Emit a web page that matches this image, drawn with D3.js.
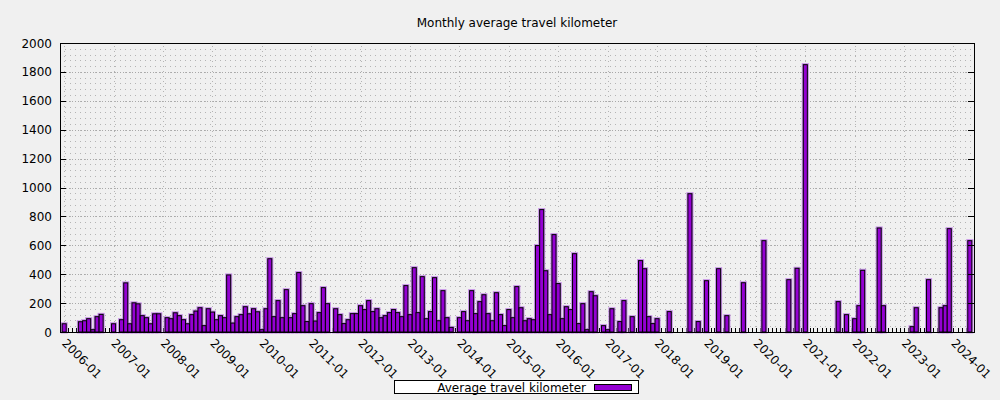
<!DOCTYPE html>
<html>
<head>
<meta charset="utf-8">
<script src="https://cdnjs.cloudflare.com/ajax/libs/d3/7.8.5/d3.min.js"></script>
<style>
  body { margin: 0; background: #f0f0f0; }
  svg { display: block; font-family: "DejaVu Sans", sans-serif; }
</style>
</head>
<body>
<div id="chart"></div>
<script>
// monthly averages, one row per year, first month 2006-01
var firstMonth = new Date(2006, 0, 1);
var monthlyKm = [
    57, 0, 0, 0, 71, 78, 92, 16, 106, 122, 0, 0,            // 2006
    57, 0, 85, 340, 57, 202, 195, 113, 99, 57, 126, 126,    // 2007
    0, 99, 92, 133, 113, 85, 57, 120, 145, 168, 44, 161,    // 2008
    138, 85, 113, 99, 395, 62, 106, 120, 175, 126, 161, 140, // 2009
    16, 161, 507, 106, 217, 99, 293, 99, 127, 411, 182, 72, // 2010
    196, 76, 134, 307, 196, 0, 161, 120, 58, 85, 127, 127,  // 2011
    182, 155, 217, 141, 161, 99, 113, 134, 155, 134, 106, 321, // 2012
    120, 445, 134, 383, 92, 141, 376, 78, 286, 99, 32, 0,   // 2013
    99, 141, 78, 286, 127, 210, 258, 127, 78, 272, 120, 44, // 2014
    155, 99, 314, 168, 78, 92, 85, 598, 847, 424, 120, 674, // 2015
    335, 92, 175, 155, 542, 58, 196, 16, 279, 251, 0, 44,   // 2016
    16, 161, 0, 72, 217, 0, 106, 0, 494, 438, 106, 58,      // 2017
    92, 0, 0, 141, 0, 0, 0, 0, 957, 0, 72, 0,               // 2018
    355, 0, 0, 438, 0, 113, 0, 0, 0, 341, 0, 0,             // 2019
    0, 0, 632, 0, 0, 0, 0, 0, 362, 0, 441, 0,               // 2020
    1850, 0, 0, 0, 0, 0, 0, 0, 210, 0, 120, 0,              // 2021
    92, 182, 427, 0, 0, 0, 720, 182, 0, 0, 0, 0,            // 2022
    0, 0, 37, 168, 0, 0, 362, 0, 0, 168, 182, 715,          // 2023
    0, 0, 0, 0, 632                                         // 2024
];
var yTicks = [0, 200, 400, 600, 800, 1000, 1200, 1400, 1600, 1800, 2000];
var yearTicks = ["2006-01", "2007-01", "2008-01", "2009-01", "2010-01", "2011-01",
    "2012-01", "2013-01", "2014-01", "2015-01", "2016-01", "2017-01", "2018-01",
    "2019-01", "2020-01", "2021-01", "2022-01", "2023-01", "2024-01"];

var width = 1000, height = 400;
var margin = {left: 60, right: 26, top: 43, bottom: 68};
var purple = '#9400d3';

var parseMonth = d3.timeParse('%Y-%m');
var data = monthlyKm.map(function(v, i) {
    return {date: d3.timeMonth.offset(firstMonth, i), value: v};
});

var svg = d3.select('#chart')
    .append('svg')
    .attr('width', width)
    .attr('height', height);

var x = d3.scaleTime()
    .domain([new Date(2005, 11, 1), new Date(2024, 5, 1)])
    .range([margin.left, width - margin.right]);
var y = d3.scaleLinear()
    .domain([0, 2000])
    .range([height - margin.bottom, margin.top]);

var x0 = margin.left, x1 = width - margin.right;
var y0 = height - margin.bottom, y1 = margin.top;

// grid: minor rows make the dot lattice, majors are denser
var minorY = d3.range(0, 2000, 40);
svg.append('g').selectAll('line')
    .data(minorY)
    .enter()
    .append('line')
    .attr('x1', x0).attr('x2', x1)
    .attr('y1', function(d) { return Math.round(y(d)) + 0.5; })
    .attr('y2', function(d) { return Math.round(y(d)) + 0.5; })
    .attr('stroke', '#b4b4b4')
    .attr('stroke-dasharray', '1,4');

svg.append('g').selectAll('line')
    .data(yTicks)
    .enter()
    .append('line')
    .attr('x1', x0).attr('x2', x1)
    .attr('y1', function(d) { return Math.round(y(d)) + 0.5; })
    .attr('y2', function(d) { return Math.round(y(d)) + 0.5; })
    .attr('stroke', '#a8a8a8')
    .attr('stroke-dasharray', '1,2');

svg.append('g').selectAll('line')
    .data(yearTicks)
    .enter()
    .append('line')
    .attr('x1', function(d) { return Math.round(x(parseMonth(d))) + 0.5; })
    .attr('x2', function(d) { return Math.round(x(parseMonth(d))) + 0.5; })
    .attr('y1', y0).attr('y2', y1)
    .attr('stroke', '#b4b4b4')
    .attr('stroke-dasharray', '1,4');

// month ticks on the x axis, behind the bars
svg.append('g').selectAll('line')
    .data(data)
    .enter()
    .append('line')
    .attr('x1', function(d) { return Math.round(x(d.date)) + 0.5; })
    .attr('x2', function(d) { return Math.round(x(d.date)) + 0.5; })
    .attr('y1', y0).attr('y2', y0 - 4)
    .attr('stroke', '#000');

function barLeft(d) {
    return x(d3.timeDay.offset(d.date, -15));
}
function barWidth(d) {
    return x(d3.timeDay.offset(d.date, 15)) - barLeft(d);
}

var bars = data.filter(function(d) { return d.value > 0; });

// soft halo around bars
svg.append('g').selectAll('rect')
    .data(bars)
    .enter()
    .append('rect')
    .attr('x', barLeft)
    .attr('y', function(d) { return y(d.value); })
    .attr('width', barWidth)
    .attr('height', function(d) { return y0 - y(d.value); })
    .attr('fill', 'none')
    .attr('stroke', '#c58ee6')
    .attr('stroke-width', 3);

svg.append('g').selectAll('rect')
    .data(bars)
    .enter()
    .append('rect')
    .attr('x', barLeft)
    .attr('y', function(d) { return y(d.value); })
    .attr('width', barWidth)
    .attr('height', function(d) { return y0 - y(d.value); })
    .attr('fill', purple)
    .attr('stroke', '#000')
    .attr('stroke-width', 1);

// border
svg.append('rect')
    .attr('x', x0 + 0.5).attr('y', y1 + 0.5)
    .attr('width', x1 - x0).attr('height', y0 - y1)
    .attr('fill', 'none')
    .attr('stroke', '#000');

// y ticks both sides + labels
var yt = svg.append('g').selectAll('g')
    .data(yTicks)
    .enter()
    .append('g');
yt.append('line')
    .attr('x1', x0).attr('x2', x0 + 6)
    .attr('y1', function(d) { return Math.round(y(d)) + 0.5; })
    .attr('y2', function(d) { return Math.round(y(d)) + 0.5; })
    .attr('stroke', '#000');
yt.append('line')
    .attr('x1', x1).attr('x2', x1 - 6)
    .attr('y1', function(d) { return Math.round(y(d)) + 0.5; })
    .attr('y2', function(d) { return Math.round(y(d)) + 0.5; })
    .attr('stroke', '#000');
yt.append('text')
    .attr('x', 52)
    .attr('y', function(d) { return y(d) + 4.5; })
    .attr('text-anchor', 'end')
    .attr('font-size', 12)
    .text(function(d) { return d; });

// rotated x labels
svg.append('g').selectAll('text')
    .data(yearTicks)
    .enter()
    .append('text')
    .attr('transform', function(d) {
        return 'translate(' + (x(parseMonth(d)) - 3) + ',344) rotate(45)';
    })
    .attr('font-size', 12)
    .text(function(d) { return d; });

// title
svg.append('text')
    .attr('x', (x0 + x1) / 2)
    .attr('y', 27)
    .attr('text-anchor', 'middle')
    .attr('font-size', 12)
    .text('Monthly average travel kilometer');

// key
var key = svg.append('g');
key.append('rect')
    .attr('x', 394.5).attr('y', 380.5)
    .attr('width', 244).attr('height', 13)
    .attr('fill', '#fff')
    .attr('stroke', '#000');
key.append('text')
    .attr('x', 586)
    .attr('y', 391.5)
    .attr('text-anchor', 'end')
    .attr('font-size', 12)
    .text('Average travel kilometer');
key.append('rect')
    .attr('x', 594.5).attr('y', 384.5)
    .attr('width', 37).attr('height', 6)
    .attr('fill', purple)
    .attr('stroke', '#000');
</script>
</body>
</html>
